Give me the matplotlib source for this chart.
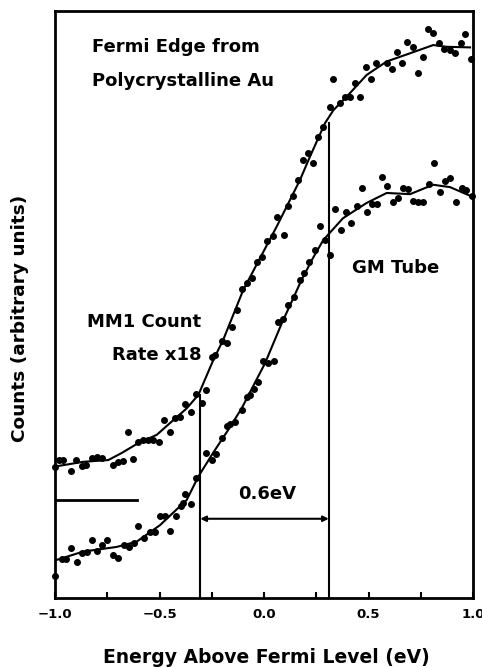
import matplotlib
matplotlib.use('Agg')
from matplotlib import pyplot as plt
from matplotlib.ticker import MultipleLocator

plt.rcParams['font.family'] = ['DejaVu Sans']
plt.rcParams['font.weight'] = 'bold'

# MM1 count rate x18 (upper trace): measured points
mm1_x = [-1.00, -0.98, -0.96, -0.925, -0.90, -0.872, -0.852, -0.824, -0.80, -0.777,
         -0.724, -0.697, -0.676, -0.649, -0.625, -0.601, -0.578, -0.554, -0.530, -0.501,
         -0.477, -0.450, -0.426, -0.402, -0.378, -0.351, -0.325, -0.298, -0.278, -0.250,
         -0.234, -0.202, -0.178, -0.155, -0.128, -0.107, -0.083, -0.059, -0.032, -0.011,
         0.016, 0.042, 0.064, 0.096, 0.116, 0.140, 0.164, 0.188, 0.212, 0.236,
         0.260, 0.281, 0.316, 0.332, 0.364, 0.388, 0.411, 0.435, 0.459, 0.487,
         0.511, 0.536, 0.587, 0.611, 0.635, 0.659, 0.686, 0.711, 0.738, 0.762,
         0.783, 0.810, 0.839, 0.863, 0.890, 0.914, 0.941, 0.962, 0.989]
mm1_y = [22.4, 23.5, 23.5, 21.7, 23.5, 22.5, 22.7, 23.9, 24.0, 23.9,
         22.7, 23.2, 23.4, 28.3, 23.7, 26.6, 26.9, 26.9, 26.9, 26.5,
         30.3, 28.2, 30.6, 30.8, 33.0, 31.7, 34.8, 33.3, 35.4, 41.1,
         41.4, 43.7, 43.5, 46.2, 49.1, 52.6, 53.6, 54.5, 57.3, 58.1,
         60.9, 61.7, 64.9, 61.9, 66.7, 68.4, 71.2, 74.7, 75.8, 74.1,
         78.6, 80.3, 83.7, 88.4, 84.3, 85.4, 85.4, 87.7, 85.3, 90.5,
         88.4, 91.2, 91.1, 90.2, 93.1, 91.1, 94.8, 93.9, 89.4, 92.1,
         96.9, 96.2, 94.6, 93.5, 93.4, 92.9, 94.5, 96.1, 91.8]

# MM1 fitted curve
mm1_fit_x = [-1.0, -0.865, -0.745, -0.681, -0.601, -0.513, -0.434, -0.370, -0.314, -0.243,
             -0.195, -0.099, -0.019, 0.061, 0.172, 0.220, 0.292, 0.332, 0.411, 0.491,
             0.587, 0.699, 0.810, 0.874, 0.986]
mm1_fit_y = [22.4, 23.2, 23.5, 24.7, 26.4, 27.8, 30.3, 32.3, 34.6, 40.5,
             44.0, 52.5, 57.9, 63.3, 71.2, 75.2, 80.9, 83.1, 86.0, 89.1,
             91.4, 92.8, 94.2, 93.9, 93.8]

# GM tube (lower trace): measured points
gm_x = [-1.00, -0.968, -0.947, -0.925, -0.896, -0.872, -0.848, -0.824, -0.798, -0.777,
        -0.753, -0.721, -0.697, -0.670, -0.644, -0.622, -0.601, -0.574, -0.545, -0.522,
        -0.498, -0.474, -0.450, -0.421, -0.399, -0.386, -0.378, -0.351, -0.325, -0.279,
        -0.250, -0.230, -0.202, -0.179, -0.163, -0.139, -0.107, -0.083, -0.067, -0.048,
        -0.027, -0.003, 0.021, 0.048, 0.068, 0.092, 0.116, 0.144, 0.172, 0.191,
        0.217, 0.244, 0.268, 0.292, 0.316, 0.340, 0.367, 0.391, 0.416, 0.444,
        0.467, 0.491, 0.515, 0.539, 0.563, 0.590, 0.616, 0.640, 0.664, 0.690,
        0.714, 0.738, 0.762, 0.791, 0.815, 0.842, 0.866, 0.890, 0.919, 0.946,
        0.967, 0.994]
gm_y = [3.7, 6.6, 6.6, 8.6, 6.2, 7.6, 7.9, 9.8, 8.0, 9.0,
        9.8, 7.3, 6.8, 9.0, 8.7, 9.3, 12.3, 10.3, 11.3, 11.3,
        14.0, 13.9, 11.4, 14.0, 15.6, 16.2, 17.7, 16.0, 20.4, 24.7,
        23.5, 24.5, 27.2, 29.3, 29.6, 29.9, 32.0, 34.2, 34.6, 35.6,
        36.8, 40.3, 40.0, 40.3, 47.1, 47.6, 49.9, 51.2, 54.1, 55.4,
        57.3, 59.3, 63.4, 61.0, 58.4, 66.2, 62.7, 65.8, 63.9, 66.8,
        69.8, 65.8, 67.2, 67.2, 71.8, 70.2, 67.5, 68.1, 69.8, 69.6,
        67.7, 67.4, 67.4, 70.5, 74.1, 69.1, 71.1, 71.6, 67.4, 69.9,
        69.5, 68.5]

# GM tube fitted curve
gm_fit_x = [-1.0, -0.866, -0.705, -0.609, -0.498, -0.370, -0.314, -0.244, -0.172, -0.107,
            0.005, 0.085, 0.180, 0.234, 0.284, 0.378, 0.491, 0.587, 0.699, 0.809,
            0.890, 0.994]
gm_fit_y = [6.4, 7.9, 8.7, 9.6, 12.4, 16.7, 20.7, 24.7, 28.6, 32.3,
            40.0, 46.8, 54.2, 57.9, 61.0, 64.7, 67.3, 69.0, 68.8, 70.4,
            70.0, 68.4]

edge_lo = -0.305
edge_hi = 0.31
edge_lo_top = 34.6
edge_hi_top = 80.9
arrow_y = 13.5
baseline_y = 16.7
baseline_end = -0.61

fig = plt.figure(figsize=(4.82, 6.67), dpi=100)
ax = fig.add_axes([55 / 482, 69 / 667, 418 / 482, 587 / 667])

ax.plot(mm1_fit_x, mm1_fit_y, color='black', lw=1.5, solid_joinstyle='round')
ax.plot(gm_fit_x, gm_fit_y, color='black', lw=1.5, solid_joinstyle='round')
ax.plot(mm1_x, mm1_y, 'o', color='black', ms=4, clip_on=False)
ax.plot(gm_x, gm_y, 'o', color='black', ms=4, clip_on=False)

ax.plot([edge_lo, edge_lo], [0, edge_lo_top], color='black', lw=1.5)
ax.plot([edge_hi, edge_hi], [0, edge_hi_top], color='black', lw=1.5)
ax.plot([-1.0, baseline_end], [baseline_y, baseline_y], color='black', lw=2)
ax.annotate('', xy=(edge_lo, arrow_y), xytext=(edge_hi, arrow_y),
            arrowprops=dict(arrowstyle='<|-|>', color='black', lw=1.5,
                            shrinkA=0, shrinkB=0, mutation_scale=8))

fs = 13
ax.text(-0.823, 93.0, 'Fermi Edge from', fontsize=fs, va='baseline')
ax.text(-0.823, 87.2, 'Polycrystalline Au', fontsize=fs, va='baseline')
ax.text(0.421, 55.4, 'GM Tube', fontsize=fs, va='baseline')
ax.text(-0.30, 46.2, 'MM1 Count', fontsize=fs, va='baseline', ha='right')
ax.text(-0.30, 40.5, 'Rate x18', fontsize=fs, va='baseline', ha='right')
ax.text(0.014, 16.9, '0.6eV', fontsize=fs, va='baseline', ha='center')

ax.set_xlim(-1.0, 1.0)
ax.set_ylim(0, 100)
ax.xaxis.set_minor_locator(MultipleLocator(0.25))
ax.set_xticks([-1.0, -0.5, 0.0, 0.5, 1.0])
ax.set_xticklabels(['\u22121.0', '\u22120.5', '0.0', '0.5', '1.0'], fontsize=9.5)
ax.tick_params(axis='x', which='both', direction='in', length=4, width=1.5, pad=7,
               top=False)
ax.set_yticks([])
for s in ax.spines.values():
    s.set_linewidth(2)

fig.text(20 / 482, 1 - 318 / 667, 'Counts (arbitrary units)', rotation=90,
         ha='center', va='center', fontsize=13.3)
fig.text(266 / 482, 1 - 663 / 667, 'Energy Above Fermi Level (eV)',
         ha='center', va='baseline', fontsize=13.5)

fig.savefig('out.png', dpi=100)
